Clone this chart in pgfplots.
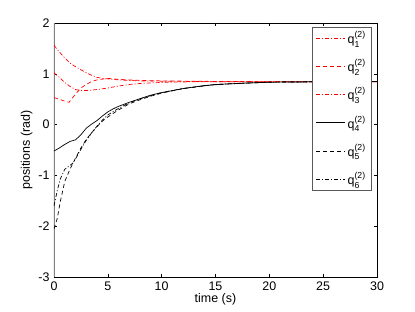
\documentclass[border=0pt]{standalone}
\usepackage{fontspec}
\setmainfont{Liberation Sans}
\usepackage{amsmath}
\usepackage{pgfplots}
\pgfplotsset{compat=1.18}
\newcommand{\qq}[1]{$\text{q}_{\text{#1}}^{\text{(2)}}$}
\begin{document}
\fontsize{13}{15}\selectfont
\begin{tikzpicture}
\pgfplotsset{
  mdashdot/.style={line width=0.7bp, dash pattern=on 4bp off 2bp on 1bp off 2bp},
  mdash/.style={line width=0.7bp, dash pattern=on 4bp off 3bp},
}
\useasboundingbox (-54bp,-35bp) rectangle (361bp,277bp);
\begin{axis}[
  at={(0,0)}, anchor=south west,
  scale only axis, width=323bp, height=254bp,
  xmin=0, xmax=30, ymin=-3, ymax=2,
  xtick={0,5,...,30}, ytick={-3,-2,...,2},
  tick align=inside, major tick length=3.5bp,
  xtick pos=both, ytick pos=both,
  axis line style={line width=0.6bp},
  tick style={line width=0.5bp, black},
  /pgf/number format/assume math mode=true,
  ticklabel style={font=\fontsize{12.5}{14}\selectfont},
  xlabel={time (s)}, ylabel={positions (rad)},
  label style={font=\fontsize{12.5}{14}\selectfont},
  xlabel style={yshift=6bp},
  ylabel style={yshift=-3bp},
  legend style={at={(1,1)}, anchor=north east, xshift=-5bp, yshift=-4bp,
    draw=gray!70!black, line width=0.6bp, inner xsep=4bp, inner ysep=2bp,
    row sep=10bp, cells={anchor=west}, font=\fontsize{12.5}{14}\selectfont},
  legend image code/.code={\draw[#1, line width=0.8bp] (0bp,0bp) -- (29bp,0bp);},
  legend cell align=left,
]
\draw[gray, line width=1.6bp] (axis cs:0,-3) -- (axis cs:0,2);
\addplot[red, mdashdot] coordinates {(0,1.56) (0.5,1.43) (1,1.31) (1.5,1.21) (2,1.14) (2.5,1.08) (3,1.02) (3.5,0.97) (4,0.93) (4.5,0.91) (5,0.9) (6,0.88) (7,0.87) (8,0.86) (10,0.855) (12,0.85) (15,0.845) (20,0.845) (30,0.845)};
\addlegendentry{\qq{1}}
\addplot[red, mdash] coordinates {(0,0.53) (0.5,0.5) (1,0.46) (1.4,0.44) (2,0.6) (2.5,0.72) (3,0.79) (3.5,0.85) (4,0.88) (5,0.91) (6,0.89) (7,0.88) (8,0.87) (10,0.86) (15,0.85) (20,0.845) (30,0.845)};
\addlegendentry{\qq{2}}
\addplot[red, mdashdot] coordinates {(0,1.02) (0.5,0.93) (1,0.83) (1.5,0.75) (2,0.69) (2.5,0.67) (3,0.67) (3.5,0.68) (4,0.69) (5,0.72) (6,0.76) (7,0.79) (8,0.81) (10,0.83) (12,0.84) (15,0.845) (30,0.845)};
\addlegendentry{\qq{3}}
\addplot[black, line width=0.7bp] coordinates {(0,-0.52) (0.5,-0.46) (1,-0.39) (1.5,-0.33) (2,-0.3) (2.5,-0.2) (3,-0.07) (3.5,0.01) (4,0.08) (4.5,0.17) (5,0.25) (5.5,0.31) (6,0.36) (7,0.44) (8,0.51) (9,0.58) (10,0.63) (12,0.71) (14,0.77) (16,0.8) (18,0.82) (20,0.835) (25,0.845) (30,0.85)};
\addlegendentry{\qq{4}}
\addplot[black, mdash] coordinates {(0,-2.05) (0.3,-1.85) (0.6,-1.5) (1,-1.12) (1.5,-0.87) (2,-0.66) (2.5,-0.46) (3,-0.29) (3.5,-0.16) (4,-0.04) (4.5,0.07) (5,0.15) (6,0.29) (7,0.41) (8,0.49) (9,0.56) (10,0.62) (12,0.71) (15,0.79) (20,0.835) (30,0.85)};
\addlegendentry{\qq{5}}
\addplot[black, mdashdot] coordinates {(0,-1.6) (0.3,-1.3) (0.6,-1.06) (1,-0.88) (1.5,-0.8) (1.8,-0.75) (2.2,-0.6) (2.7,-0.41) (3,-0.31) (3.5,-0.16) (4,-0.03) (4.5,0.09) (5,0.19) (6,0.32) (7,0.43) (8,0.51) (10,0.63) (12,0.71) (15,0.79) (20,0.835) (30,0.85)};
\addlegendentry{\qq{6}}
\end{axis}
\end{tikzpicture}
\end{document}
